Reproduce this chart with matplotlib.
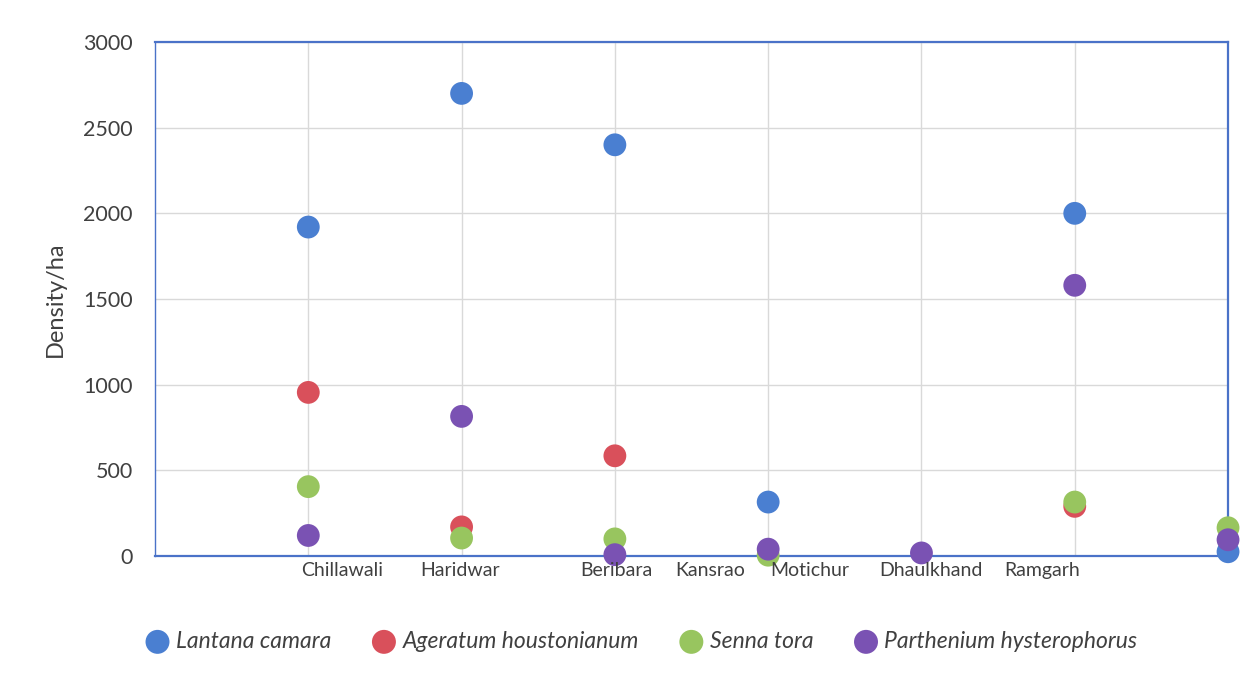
import numpy as np
import matplotlib
matplotlib.use("Agg")
import matplotlib.pyplot as plt

plt.rcParams['font.family'] = ['Lato', 'DejaVu Sans']

# Sampling sites, in axis order
sites = ["Chillawali", "Haridwar", "Beribara", "Motichur", "Dhaulkhand", "Ramgarh", ""]
site_x = [1, 2, 3, 4, 5, 6, 7]

# Site names as printed under the axis
axis_labels = ["Chillawali", "Haridwar", "Beribara", "Kansrao", "Motichur", "Dhaulkhand", "Ramgarh"]
axis_label_x = [1.22, 1.99, 3.01, 3.62, 4.27, 5.06, 5.79]

# Density per hectare for each species
lantana = [1920, 2700, 2400, 315, np.nan, 2000, 25]
ageratum = [955, 170, 585, np.nan, np.nan, 290, np.nan]
senna = [405, 105, 100, 5, np.nan, 315, 165]
parthenium = [120, 815, 8, 40, 18, 1580, 95]

series = [
    ("Lantana camara", lantana, "#4a7fd1"),
    ("Ageratum houstonianum", ageratum, "#d9505b"),
    ("Senna tora", senna, "#98c55f"),
    ("Parthenium hysterophorus", parthenium, "#7a52b3"),
]

fig = plt.figure(figsize=(12.47, 6.73), dpi=100)
ax = fig.add_axes([0.1243, 0.1738, 0.8605, 0.7638])

for name, vals, col in series:
    ax.scatter(site_x, vals, s=270, color=col, label=name, zorder=3,
               clip_on=False, edgecolors='none')

ax.set_xlim(0, 7)
ax.set_ylim(0, 3000)
ax.set_yticks(np.arange(0, 3001, 500))
ax.set_xticks(site_x)
ax.set_xticklabels([])
ax.tick_params(axis='both', length=0)
ax.tick_params(axis='y', labelsize=15.5, labelcolor='#404040', pad=16)
ax.grid(True, color='#d9d9d9', linewidth=1.0, zorder=0)
ax.set_axisbelow(True)

for sp in ax.spines.values():
    sp.set_color('#4a72c8')
    sp.set_linewidth(1.6)
ax.spines['left'].set_linewidth(1.0)

ax.set_ylabel("Density/ha", fontsize=17, color='#404040')
ax.yaxis.set_label_coords(-0.083, 0.5)

for lab, xp in zip(axis_labels, axis_label_x):
    ax.text(xp, -35, lab, ha='center', va='top', fontsize=14, color='#404040',
            transform=ax.transData, clip_on=False)

leg = fig.legend(loc='center', bbox_to_anchor=(0.51, 0.047), ncol=4, frameon=False,
                 handletextpad=-0.2, columnspacing=1.3, markerscale=1.05,
                 prop={'style': 'italic', 'size': 16.5})
for t in leg.get_texts():
    t.set_color('#404040')

fig.savefig("out.png", dpi=100, facecolor='white')
